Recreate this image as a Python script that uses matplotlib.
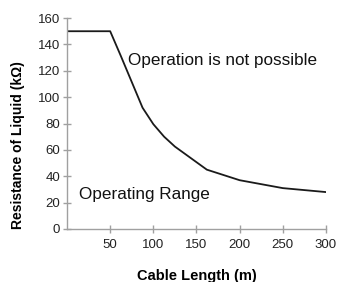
from matplotlib import pyplot as plt

# -----------------------------------------------------------------------------
# Data

cable_length = [0, 50, 62.5, 75, 87.5, 100, 112.5, 125, 162, 200, 250, 300]
resistance = [150, 150, 131, 111.5, 92, 79.5, 70, 62.5, 45, 37, 31, 28]

x_ticks = [50, 100, 150, 200, 250, 300]
y_ticks = [0, 20, 40, 60, 80, 100, 120, 140, 160]

# -----------------------------------------------------------------------------

plt.rcParams['font.family'] = ['Liberation Sans', 'DejaVu Sans']

figure = plt.figure(figsize=(3.42, 2.82), dpi=100)
ax = figure.add_axes([0.196, 0.188, 0.757, 0.748])

ax.plot(cable_length, resistance, color='#1a1a1a', linewidth=1.3)

ax.set_xlim(0, 300)
ax.set_ylim(0, 160)
ax.set_xticks(x_ticks)
ax.set_yticks(y_ticks)

for side in ['top', 'right']:
    ax.spines[side].set_visible(False)
for side in ['left', 'bottom']:
    ax.spines[side].set_color('#a0a0a0')
    ax.spines[side].set_linewidth(1.0)

ax.tick_params(axis='both', direction='inout', length=6, width=1.0,
               color='#a0a0a0', labelsize=9.5, labelcolor='#222222')
ax.tick_params(axis='x', pad=4)
ax.tick_params(axis='y', pad=2)

ax.text(70.5, 128, 'Operation is not possible', fontsize=12.3,
        va='center', ha='left', color='#111111')
ax.text(14, 26, 'Operating Range', fontsize=12.3,
        va='center', ha='left', color='#111111')

ax.set_xlabel('Cable Length (m)', fontsize=10.5, fontweight='bold',
              labelpad=13)
ax.set_ylabel('Resistance of Liquid (k\u03a9)', fontsize=10,
              fontweight='bold')
ax.yaxis.set_label_coords(-0.162, 0.4)

figure.savefig('out.png', dpi=100)
